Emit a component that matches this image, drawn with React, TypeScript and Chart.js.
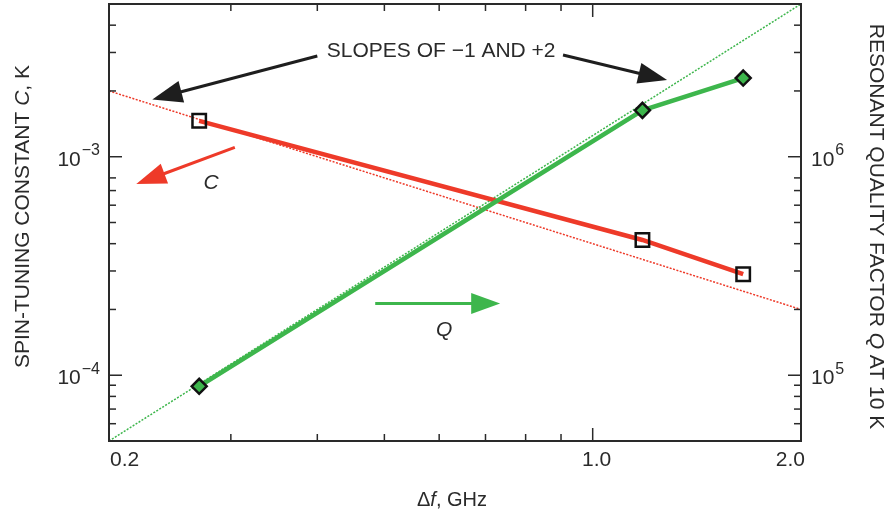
import React, { useEffect, useRef } from 'react';
import { Chart, registerables } from 'chart.js';

Chart.register(...registerables);

const FONT = "'Liberation Sans', Arial, Helvetica, sans-serif";
const RED = '#ee3a29';
const GREEN = '#3db64c';
const INK = '#2a2a2a';

// ---- data ----
const freqGHz = [0.27, 1.18, 1.65];
const spinTuningC = [1.46e-3, 4.16e-4, 2.9e-4];
const qualityQ = [8.9e4, 1.63e6, 2.29e6];

const slopeFreq = [0.2, 2.0];
const slopeMinus1C = [2e-3, 2e-4];
const slopePlus2Q = [5e4, 5e6];

// ---- axes ----
const xRange = [0.2, 2.0];
const cRange = [5e-5, 5e-3];
const qRange = [5e4, 5e6];

const xMajorTicks = [0.2, 1.0, 2.0];
const xTickLabels = ['0.2', '1.0', '2.0'];
const xMinorTicks = [0.3, 0.4, 0.5, 0.6, 0.7, 0.8, 0.9];

const cMajorTicks = [1e-4, 1e-3];
const cTickExponents = ['−4', '−3'];
const cMinorTicks = [6e-5, 7e-5, 8e-5, 9e-5, 2e-4, 3e-4, 4e-4, 5e-4, 6e-4, 7e-4, 8e-4, 2e-3, 3e-3, 4e-3];

const qMajorTicks = [1e5, 1e6];
const qTickExponents = ['5', '6'];
const qMinorTicks = [6e4, 7e4, 8e4, 9e4, 2e5, 3e5, 4e5, 5e5, 6e5, 7e5, 8e5, 2e6, 3e6, 4e6];

// ---- annotations (in data coordinates: x in GHz, y on the C axis) ----
const slopeText = 'SLOPES OF −1 AND +2';
const slopeTextAt = [0.604, 3.05e-3];
const slopeArrowLeft = [[0.40, 2.89e-3], [0.231, 1.83e-3]];
const slopeArrowRight = [[0.906, 2.92e-3], [1.281, 2.245e-3]];
const cArrow = [[0.304, 1.104e-3], [0.219, 7.5e-4]];
const cLabelAt = [0.281, 7.6e-4];
const qArrow = [[0.485, 2.13e-4], [0.735, 2.13e-4]];
const qLabelAt = [0.61, 1.61e-4];

type Seg = { t: string; it?: boolean };

function drawRich(ctx: CanvasRenderingContext2D, segs: Seg[], size: number) {
  const fonts = segs.map((s) => `${s.it ? 'italic ' : ''}${size}px ${FONT}`);
  let total = 0;
  const widths = segs.map((s, i) => {
    ctx.font = fonts[i];
    const w = ctx.measureText(s.t).width;
    total += w;
    return w;
  });
  let x = -total / 2;
  ctx.textAlign = 'left';
  ctx.textBaseline = 'middle';
  segs.forEach((s, i) => {
    ctx.font = fonts[i];
    ctx.fillText(s.t, x, 0);
    x += widths[i];
  });
}

function arrow(
  ctx: CanvasRenderingContext2D,
  x0: number, y0: number, x1: number, y1: number,
  color: string, lw: number, headLen: number, headHalf: number
) {
  const a = Math.atan2(y1 - y0, x1 - x0);
  const bx = x1 - headLen * Math.cos(a);
  const by = y1 - headLen * Math.sin(a);
  ctx.strokeStyle = color;
  ctx.lineWidth = lw;
  ctx.lineCap = 'butt';
  ctx.beginPath();
  ctx.moveTo(x0, y0);
  ctx.lineTo(bx + 2 * Math.cos(a), by + 2 * Math.sin(a));
  ctx.stroke();
  ctx.fillStyle = color;
  ctx.beginPath();
  ctx.moveTo(x1, y1);
  ctx.lineTo(bx + headHalf * Math.sin(a), by - headHalf * Math.cos(a));
  ctx.lineTo(bx - headHalf * Math.sin(a), by + headHalf * Math.cos(a));
  ctx.closePath();
  ctx.fill();
}

const decorPlugin = {
  id: 'decor',
  afterDraw(chart: any) {
    const ctx: CanvasRenderingContext2D = chart.ctx;
    const { left, right, top, bottom } = chart.chartArea;
    const sx = chart.scales.x;
    const sy = chart.scales.y;
    const sq = chart.scales.y1;
    const P = (p: number[]) => [sx.getPixelForValue(p[0]), sy.getPixelForValue(p[1])];

    ctx.save();
    // frame
    ctx.strokeStyle = INK;
    ctx.lineWidth = 2;
    ctx.strokeRect(left, top, right - left, bottom - top);

    // inward ticks
    ctx.lineWidth = 1.5;
    const seg = (a: number, b: number, c: number, d: number) => {
      ctx.beginPath();
      ctx.moveTo(a, b);
      ctx.lineTo(c, d);
      ctx.stroke();
    };
    const MINOR = 7;
    const MAJOR = 13;
    xMinorTicks.forEach((v) => {
      const p = sx.getPixelForValue(v);
      seg(p, bottom, p, bottom - MINOR);
      seg(p, top, p, top + MINOR);
    });
    xMajorTicks.forEach((v) => {
      const p = sx.getPixelForValue(v);
      seg(p, bottom, p, bottom - MAJOR);
      seg(p, top, p, top + MAJOR);
    });
    cMinorTicks.forEach((v) => {
      const p = sy.getPixelForValue(v);
      seg(left, p, left + MINOR, p);
    });
    cMajorTicks.forEach((v) => {
      const p = sy.getPixelForValue(v);
      seg(left, p, left + MAJOR, p);
    });
    qMinorTicks.forEach((v) => {
      const p = sq.getPixelForValue(v);
      seg(right, p, right - MINOR, p);
    });
    qMajorTicks.forEach((v) => {
      const p = sq.getPixelForValue(v);
      seg(right, p, right - MAJOR, p);
    });

    // tick labels
    ctx.fillStyle = INK;
    ctx.font = `21px ${FONT}`;
    ctx.textBaseline = 'top';
    xMajorTicks.forEach((v, i) => {
      const p = sx.getPixelForValue(v);
      ctx.textAlign = i === 0 ? 'left' : i === xMajorTicks.length - 1 ? 'right' : 'center';
      ctx.fillText(xTickLabels[i], i === 0 ? p + 1 : i === xMajorTicks.length - 1 ? p + 4 : p + 4, bottom + 9);
    });
    const power = (x: number, y: number, exp: string, alignRight: boolean) => {
      ctx.font = `21px ${FONT}`;
      const wb = ctx.measureText('10').width;
      ctx.font = `16px ${FONT}`;
      const we = ctx.measureText(exp).width;
      const x0 = alignRight ? x - wb - we - 1 : x;
      ctx.textAlign = 'left';
      ctx.textBaseline = 'middle';
      ctx.font = `21px ${FONT}`;
      ctx.fillText('10', x0, y + 3);
      ctx.font = `16px ${FONT}`;
      ctx.fillText(exp, x0 + wb + 1, y - 6);
    };
    cMajorTicks.forEach((v, i) => power(left - 9, sy.getPixelForValue(v), cTickExponents[i], true));
    qMajorTicks.forEach((v, i) => power(right + 10, sq.getPixelForValue(v), qTickExponents[i], false));

    // axis titles
    ctx.fillStyle = INK;
    ctx.save();
    ctx.translate(23, (top + bottom) / 2 - 6);
    ctx.rotate(-Math.PI / 2);
    drawRich(ctx, [{ t: 'SPIN-TUNING CONSTANT ' }, { t: 'C', it: true }, { t: ', K' }], 21);
    ctx.restore();
    ctx.save();
    ctx.translate(876, (top + bottom) / 2 + 4);
    ctx.rotate(Math.PI / 2);
    drawRich(ctx, [{ t: 'RESONANT QUALITY FACTOR ' }, { t: 'Q', it: true }, { t: ' AT 10 K' }], 21);
    ctx.restore();
    ctx.save();
    ctx.translate(452, 500);
    drawRich(ctx, [{ t: 'Δ' }, { t: 'f', it: true }, { t: ', GHz' }], 20);
    ctx.restore();

    // annotations
    const [tx, ty] = P(slopeTextAt);
    ctx.save();
    ctx.translate(tx, ty);
    drawRich(ctx, [{ t: slopeText }], 21);
    ctx.restore();
    let a = P(slopeArrowLeft[0]);
    let b = P(slopeArrowLeft[1]);
    arrow(ctx, a[0], a[1], b[0], b[1], '#1e1e1e', 3, 30, 11);
    a = P(slopeArrowRight[0]);
    b = P(slopeArrowRight[1]);
    arrow(ctx, a[0], a[1], b[0], b[1], '#1e1e1e', 3, 29, 10.5);
    a = P(cArrow[0]);
    b = P(cArrow[1]);
    arrow(ctx, a[0], a[1], b[0], b[1], RED, 3, 30, 10.5);
    a = P(qArrow[0]);
    b = P(qArrow[1]);
    arrow(ctx, a[0], a[1], b[0], b[1], GREEN, 3, 29, 10.5);

    ctx.fillStyle = INK;
    const [cx, cy] = P(cLabelAt);
    ctx.save();
    ctx.translate(cx, cy);
    drawRich(ctx, [{ t: 'C', it: true }], 21);
    ctx.restore();
    const [qx, qy] = P(qLabelAt);
    ctx.save();
    ctx.translate(qx, qy);
    drawRich(ctx, [{ t: 'Q', it: true }], 21);
    ctx.restore();

    ctx.restore();
  },
};

export default function App() {
  const ref = useRef<HTMLCanvasElement | null>(null);

  useEffect(() => {
    if (!ref.current) return;
    const pts = (xs: number[], ys: number[]) => xs.map((x, i) => ({ x, y: ys[i] }));
    const chart = new Chart(ref.current, {
      type: 'line',
      data: {
        datasets: [
          {
            label: 'Q',
            data: pts(freqGHz, qualityQ),
            yAxisID: 'y1',
            borderColor: GREEN,
            borderWidth: 4.5,
            pointStyle: 'rectRot',
            pointRadius: 7.5,
            pointBackgroundColor: GREEN,
            pointBorderColor: '#111',
            pointBorderWidth: 2.5,
            order: 0,
          },
          {
            label: 'C',
            data: pts(freqGHz, spinTuningC),
            yAxisID: 'y',
            borderColor: RED,
            borderWidth: 4.5,
            pointStyle: 'rect',
            pointRadius: 9.5,
            pointBackgroundColor: 'rgba(0,0,0,0)',
            pointBorderColor: '#111',
            pointBorderWidth: 2.5,
            order: 1,
          },
          {
            label: 'slope +2',
            data: pts(slopeFreq, slopePlus2Q),
            yAxisID: 'y1',
            borderColor: GREEN,
            borderWidth: 1.5,
            borderDash: [2, 1.5],
            pointRadius: 0,
            order: 2,
          },
          {
            label: 'slope -1',
            data: pts(slopeFreq, slopeMinus1C),
            yAxisID: 'y',
            borderColor: RED,
            borderWidth: 1.5,
            borderDash: [2, 1.5],
            pointRadius: 0,
            order: 3,
          },
        ],
      },
      options: {
        responsive: false,
        animation: false,
        events: [],
        layout: { autoPadding: false, padding: { left: 109, right: 89, top: 4, bottom: 75 } },
        plugins: { legend: { display: false }, tooltip: { enabled: false } },
        elements: { line: { tension: 0 } },
        scales: {
          x: { type: 'logarithmic', min: xRange[0], max: xRange[1], bounds: 'data', display: false },
          y: { type: 'logarithmic', position: 'left', min: cRange[0], max: cRange[1], bounds: 'data', display: false },
          y1: { type: 'logarithmic', position: 'right', min: qRange[0], max: qRange[1], bounds: 'data', display: false },
        },
      },
      plugins: [decorPlugin],
    } as any);
    return () => chart.destroy();
  }, []);

  return (
    <div style={{ position: 'absolute', left: 0, top: 0, width: 890, height: 516, background: '#fff' }}>
      <canvas ref={ref} width={890} height={516} style={{ display: 'block' }} />
    </div>
  );
}
